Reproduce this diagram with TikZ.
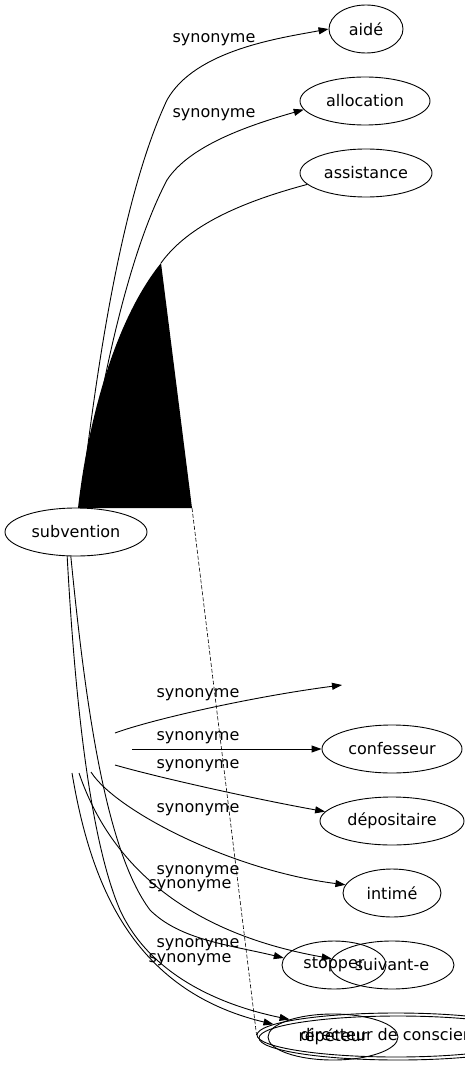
\documentclass[tikz,border=0pt]{standalone}
\usepackage{fontspec}
\newfontfamily\labelfont{DejaVu Sans}
\usetikzlibrary{shapes.geometric,arrows.meta}

\begin{document}
\begin{tikzpicture}[x=1pt,y=-1pt,line width=0.9pt,
	word/.style={draw,ellipse,inner sep=0pt,minimum height=48pt,font=\labelfont\fontsize{16}{19}\selectfont},
	syn/.style={inner sep=0pt,font=\labelfont\fontsize{16}{19}\selectfont},
	rel/.style={-{Triangle[length=10pt,width=7pt]}}]
\useasboundingbox (0,0) rectangle (465,1067);

% words
\node [word,minimum width=74pt] (aide) at (366,29) {aidé};
\node [word,minimum width=130pt] (allocation) at (365,101) {allocation};
\node [word,minimum width=132pt] (assistance) at (366,173) {assistance};
\node [word,minimum width=142pt] (subvention) at (76,532) {subvention};
\node [word,minimum width=140pt] (confesseur) at (392,749) {confesseur};
\node [word,minimum width=144pt] (depositaire) at (392,821) {dépositaire};
\node [word,minimum width=98pt] (intime) at (392,893) {intimé};
\node [word,minimum width=104pt] (stopper) at (334,965) {stopper};
\node [word,minimum width=124pt] (suivante) at (392,965) {suivant-e};
\node [word,minimum width=278pt,minimum height=44pt] (directeurb) at (398,1038) {};
\node [word,minimum width=278pt,minimum height=44pt] (directeur) at (396,1035) {directeur de conscience};
\node [word,minimum width=130pt,minimum height=46pt] (repeteur) at (333,1037) {répéteur};
\coordinate (blank) at (342,685);

% loose ends
\coordinate (peak) at (161,263);
\coordinate (base) at (192,508);
\coordinate (foot) at (78,508);
\coordinate (sa) at (115,733);
\coordinate (sb) at (132,749);
\coordinate (sc) at (115,765);
\coordinate (sd) at (91,772);
\coordinate (se) at (79,773);
\coordinate (sf) at (72,773);

% upper edges
\fill (foot) .. controls (88,420) and (115,320) .. (peak) -- (base) -- cycle;
\draw (assistance.191) .. controls (230,205) and (185,230) .. (peak);
\draw [rel] (subvention.80) .. controls (95,380) and (120,200) .. (167,100) .. controls (195,50) and (280,38) .. (aide.west);
\draw [rel] (subvention.75) .. controls (98,400) and (125,260) .. (167,180) .. controls (190,145) and (250,125) .. (allocation.188);
\draw [dashed,line width=0.6pt,dash pattern=on 4pt off 2pt] (base) -- (directeur.west);
\node [syn] (la) at (214,40) {synonyme};
\node [syn] (lb) at (214,115) {synonyme};

% lower edges
\draw [rel] (sa) .. controls (150,720) and (250,697) .. (blank);
\draw [rel] (sb) -- (confesseur.west);
\draw [rel] (sc) .. controls (160,778) and (260,800) .. (depositaire.172);
\draw [rel] (sd) .. controls (115,810) and (230,870) .. (intime.170);
\draw [rel] (se) .. controls (105,850) and (170,930) .. (suivante.174);
\draw [rel] (subvention.258) .. controls (85,700) and (105,850) .. (150,910) .. controls (180,940) and (230,945) .. (stopper.172);
\draw [rel] (subvention.250) .. controls (75,700) and (90,840) .. (120,910) .. controls (150,975) and (220,1005) .. (repeteur.158);
\draw [rel] (sf) .. controls (90,880) and (130,990) .. (directeur.175);
\node [syn] (lc) at (198,695) {synonyme};
\node [syn] (ld) at (198,738) {synonyme};
\node [syn] (le) at (198,766) {synonyme};
\node [syn] (lf) at (198,810) {synonyme};
\node [syn] (lg) at (198,872) {synonyme};
\node [syn] (lh) at (190,886) {synonyme};
\node [syn] (li) at (198,945) {synonyme};
\node [syn] (lj) at (190,960) {synonyme};
\end{tikzpicture}
\end{document}
